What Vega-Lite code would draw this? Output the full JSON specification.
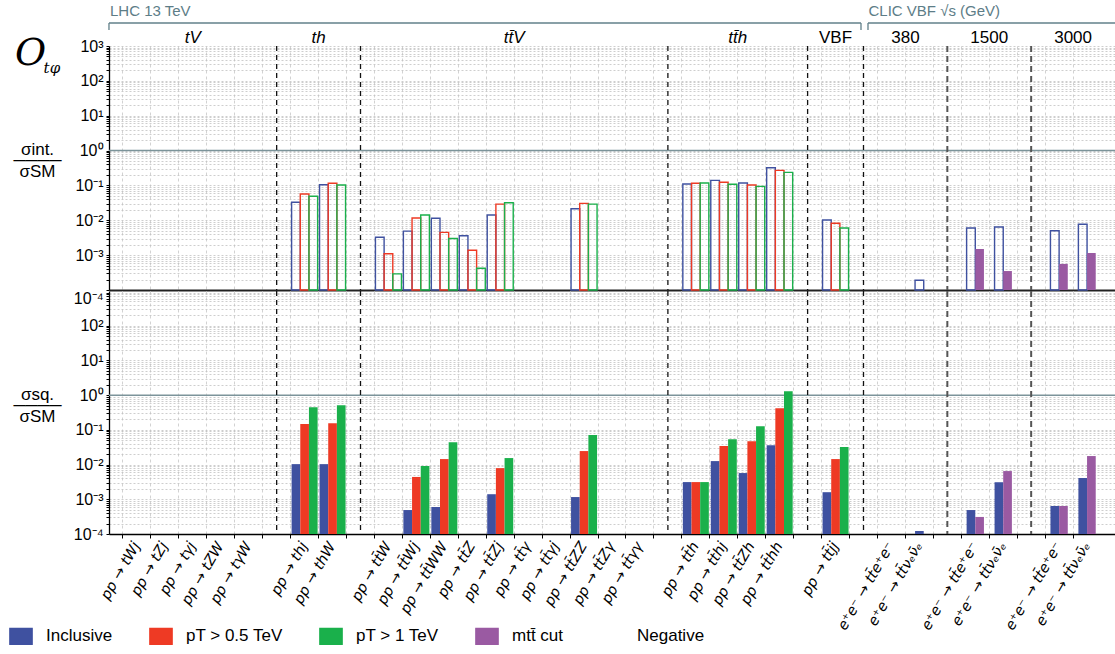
{
"$schema": "https://vega.github.io/schema/vega-lite/v6.json",
"background": "white",
"padding": {"left": 12, "top": 4, "right": 0, "bottom": 2},
"config": {
  "font": "Liberation Sans",
  "view": {"stroke": null},
  "legend": {"orient": "none", "legendX": -97, "legendY": 581, "direction": "horizontal", "labelFontSize": 17, "labelFont": "Liberation Sans", "labelColor": "#000", "symbolType": "M-1.4,-1H1.4V1H-1.4Z", "symbolSize": 256, "symbolStrokeColor": "#222222", "symbolStrokeWidth": 1.2, "columnPadding": 34, "labelOffset": 16, "padding": 0}
},
"datasets": {
  "intf": [
    {"proc": "pp \u2192 thj|", "series": "Inclusive", "value": 0.033, "neg": true},
    {"proc": "pp \u2192 thj|", "series": "pT > 0.5 TeV", "value": 0.057, "neg": true},
    {"proc": "pp \u2192 thj|", "series": "pT > 1 TeV", "value": 0.049, "neg": true},
    {"proc": "pp \u2192 thW|", "series": "Inclusive", "value": 0.105, "neg": true},
    {"proc": "pp \u2192 thW|", "series": "pT > 0.5 TeV", "value": 0.115, "neg": true},
    {"proc": "pp \u2192 thW|", "series": "pT > 1 TeV", "value": 0.103, "neg": true},
    {"proc": "pp \u2192 tt\u0304W|", "series": "Inclusive", "value": 0.00325, "neg": true},
    {"proc": "pp \u2192 tt\u0304W|", "series": "pT > 0.5 TeV", "value": 0.0011, "neg": true},
    {"proc": "pp \u2192 tt\u0304W|", "series": "pT > 1 TeV", "value": 0.00029, "neg": true},
    {"proc": "pp \u2192 tt\u0304Wj|", "series": "Inclusive", "value": 0.0049, "neg": true},
    {"proc": "pp \u2192 tt\u0304Wj|", "series": "pT > 0.5 TeV", "value": 0.0116, "neg": true},
    {"proc": "pp \u2192 tt\u0304Wj|", "series": "pT > 1 TeV", "value": 0.0142, "neg": true},
    {"proc": "pp \u2192 tt\u0304WW|", "series": "Inclusive", "value": 0.0114, "neg": true},
    {"proc": "pp \u2192 tt\u0304WW|", "series": "pT > 0.5 TeV", "value": 0.0045, "neg": true},
    {"proc": "pp \u2192 tt\u0304WW|", "series": "pT > 1 TeV", "value": 0.0030, "neg": true},
    {"proc": "pp \u2192 tt\u0304Z|", "series": "Inclusive", "value": 0.0036, "neg": true},
    {"proc": "pp \u2192 tt\u0304Z|", "series": "pT > 0.5 TeV", "value": 0.00138, "neg": true},
    {"proc": "pp \u2192 tt\u0304Z|", "series": "pT > 1 TeV", "value": 0.00042, "neg": true},
    {"proc": "pp \u2192 tt\u0304Zj|", "series": "Inclusive", "value": 0.0142, "neg": true},
    {"proc": "pp \u2192 tt\u0304Zj|", "series": "pT > 0.5 TeV", "value": 0.029, "neg": true},
    {"proc": "pp \u2192 tt\u0304Zj|", "series": "pT > 1 TeV", "value": 0.032, "neg": true},
    {"proc": "pp \u2192 tt\u0304ZZ|", "series": "Inclusive", "value": 0.0215, "neg": true},
    {"proc": "pp \u2192 tt\u0304ZZ|", "series": "pT > 0.5 TeV", "value": 0.0306, "neg": true},
    {"proc": "pp \u2192 tt\u0304ZZ|", "series": "pT > 1 TeV", "value": 0.029, "neg": true},
    {"proc": "pp \u2192 tt\u0304h|", "series": "Inclusive", "value": 0.110, "neg": true},
    {"proc": "pp \u2192 tt\u0304h|", "series": "pT > 0.5 TeV", "value": 0.115, "neg": true},
    {"proc": "pp \u2192 tt\u0304h|", "series": "pT > 1 TeV", "value": 0.117, "neg": true},
    {"proc": "pp \u2192 tt\u0304hj|", "series": "Inclusive", "value": 0.140, "neg": true},
    {"proc": "pp \u2192 tt\u0304hj|", "series": "pT > 0.5 TeV", "value": 0.123, "neg": true},
    {"proc": "pp \u2192 tt\u0304hj|", "series": "pT > 1 TeV", "value": 0.108, "neg": true},
    {"proc": "pp \u2192 tt\u0304Zh|", "series": "Inclusive", "value": 0.117, "neg": true},
    {"proc": "pp \u2192 tt\u0304Zh|", "series": "pT > 0.5 TeV", "value": 0.103, "neg": true},
    {"proc": "pp \u2192 tt\u0304Zh|", "series": "pT > 1 TeV", "value": 0.094, "neg": true},
    {"proc": "pp \u2192 tt\u0304hh|", "series": "Inclusive", "value": 0.32, "neg": true},
    {"proc": "pp \u2192 tt\u0304hh|", "series": "pT > 0.5 TeV", "value": 0.27, "neg": true},
    {"proc": "pp \u2192 tt\u0304hh|", "series": "pT > 1 TeV", "value": 0.237, "neg": true},
    {"proc": "pp \u2192 tt\u0304jj|", "series": "Inclusive", "value": 0.0102, "neg": true},
    {"proc": "pp \u2192 tt\u0304jj|", "series": "pT > 0.5 TeV", "value": 0.0082, "neg": true},
    {"proc": "pp \u2192 tt\u0304jj|", "series": "pT > 1 TeV", "value": 0.0060, "neg": true},
    {"proc": "e\u207ae\u207b \u2192 tt\u0304\u03bd\u2091\u03bd\u0304\u2091|380", "series": "Inclusive", "value": 0.00019, "neg": true},
    {"proc": "e\u207ae\u207b \u2192 tt\u0304e\u207ae\u207b|1500", "series": "Inclusive", "value": 0.0060, "neg": true},
    {"proc": "e\u207ae\u207b \u2192 tt\u0304e\u207ae\u207b|1500", "series": "mtt\u0304 cut", "value": 0.0015, "neg": false},
    {"proc": "e\u207ae\u207b \u2192 tt\u0304\u03bd\u2091\u03bd\u0304\u2091|1500", "series": "Inclusive", "value": 0.0064, "neg": true},
    {"proc": "e\u207ae\u207b \u2192 tt\u0304\u03bd\u2091\u03bd\u0304\u2091|1500", "series": "mtt\u0304 cut", "value": 0.00035, "neg": false},
    {"proc": "e\u207ae\u207b \u2192 tt\u0304e\u207ae\u207b|3000", "series": "Inclusive", "value": 0.0050, "neg": true},
    {"proc": "e\u207ae\u207b \u2192 tt\u0304e\u207ae\u207b|3000", "series": "mtt\u0304 cut", "value": 0.00056, "neg": false},
    {"proc": "e\u207ae\u207b \u2192 tt\u0304\u03bd\u2091\u03bd\u0304\u2091|3000", "series": "Inclusive", "value": 0.0077, "neg": true},
    {"proc": "e\u207ae\u207b \u2192 tt\u0304\u03bd\u2091\u03bd\u0304\u2091|3000", "series": "mtt\u0304 cut", "value": 0.00115, "neg": false}
  ],
  "sqr": [
    {"proc": "pp \u2192 thj|", "series": "Inclusive", "value": 0.0103},
    {"proc": "pp \u2192 thj|", "series": "pT > 0.5 TeV", "value": 0.147},
    {"proc": "pp \u2192 thj|", "series": "pT > 1 TeV", "value": 0.45},
    {"proc": "pp \u2192 thW|", "series": "Inclusive", "value": 0.0103},
    {"proc": "pp \u2192 thW|", "series": "pT > 0.5 TeV", "value": 0.156},
    {"proc": "pp \u2192 thW|", "series": "pT > 1 TeV", "value": 0.515},
    {"proc": "pp \u2192 tt\u0304Wj|", "series": "Inclusive", "value": 0.00049},
    {"proc": "pp \u2192 tt\u0304Wj|", "series": "pT > 0.5 TeV", "value": 0.0044},
    {"proc": "pp \u2192 tt\u0304Wj|", "series": "pT > 1 TeV", "value": 0.0091},
    {"proc": "pp \u2192 tt\u0304WW|", "series": "Inclusive", "value": 0.0006},
    {"proc": "pp \u2192 tt\u0304WW|", "series": "pT > 0.5 TeV", "value": 0.0144},
    {"proc": "pp \u2192 tt\u0304WW|", "series": "pT > 1 TeV", "value": 0.0443},
    {"proc": "pp \u2192 tt\u0304Zj|", "series": "Inclusive", "value": 0.0014},
    {"proc": "pp \u2192 tt\u0304Zj|", "series": "pT > 0.5 TeV", "value": 0.0079},
    {"proc": "pp \u2192 tt\u0304Zj|", "series": "pT > 1 TeV", "value": 0.0154},
    {"proc": "pp \u2192 tt\u0304ZZ|", "series": "Inclusive", "value": 0.00116},
    {"proc": "pp \u2192 tt\u0304ZZ|", "series": "pT > 0.5 TeV", "value": 0.0245},
    {"proc": "pp \u2192 tt\u0304ZZ|", "series": "pT > 1 TeV", "value": 0.0707},
    {"proc": "pp \u2192 tt\u0304h|", "series": "Inclusive", "value": 0.00313},
    {"proc": "pp \u2192 tt\u0304h|", "series": "pT > 0.5 TeV", "value": 0.00313},
    {"proc": "pp \u2192 tt\u0304h|", "series": "pT > 1 TeV", "value": 0.00313},
    {"proc": "pp \u2192 tt\u0304hj|", "series": "Inclusive", "value": 0.0126},
    {"proc": "pp \u2192 tt\u0304hj|", "series": "pT > 0.5 TeV", "value": 0.034},
    {"proc": "pp \u2192 tt\u0304hj|", "series": "pT > 1 TeV", "value": 0.054},
    {"proc": "pp \u2192 tt\u0304Zh|", "series": "Inclusive", "value": 0.0057},
    {"proc": "pp \u2192 tt\u0304Zh|", "series": "pT > 0.5 TeV", "value": 0.047},
    {"proc": "pp \u2192 tt\u0304Zh|", "series": "pT > 1 TeV", "value": 0.128},
    {"proc": "pp \u2192 tt\u0304hh|", "series": "Inclusive", "value": 0.036},
    {"proc": "pp \u2192 tt\u0304hh|", "series": "pT > 0.5 TeV", "value": 0.42},
    {"proc": "pp \u2192 tt\u0304hh|", "series": "pT > 1 TeV", "value": 1.30},
    {"proc": "pp \u2192 tt\u0304jj|", "series": "Inclusive", "value": 0.0016},
    {"proc": "pp \u2192 tt\u0304jj|", "series": "pT > 0.5 TeV", "value": 0.0144},
    {"proc": "pp \u2192 tt\u0304jj|", "series": "pT > 1 TeV", "value": 0.032},
    {"proc": "e\u207ae\u207b \u2192 tt\u0304\u03bd\u2091\u03bd\u0304\u2091|380", "series": "Inclusive", "value": 0.000122},
    {"proc": "e\u207ae\u207b \u2192 tt\u0304e\u207ae\u207b|1500", "series": "Inclusive", "value": 0.00049},
    {"proc": "e\u207ae\u207b \u2192 tt\u0304e\u207ae\u207b|1500", "series": "mtt\u0304 cut", "value": 0.00031},
    {"proc": "e\u207ae\u207b \u2192 tt\u0304\u03bd\u2091\u03bd\u0304\u2091|1500", "series": "Inclusive", "value": 0.0031},
    {"proc": "e\u207ae\u207b \u2192 tt\u0304\u03bd\u2091\u03bd\u0304\u2091|1500", "series": "mtt\u0304 cut", "value": 0.0065},
    {"proc": "e\u207ae\u207b \u2192 tt\u0304e\u207ae\u207b|3000", "series": "Inclusive", "value": 0.00064},
    {"proc": "e\u207ae\u207b \u2192 tt\u0304e\u207ae\u207b|3000", "series": "mtt\u0304 cut", "value": 0.00064},
    {"proc": "e\u207ae\u207b \u2192 tt\u0304\u03bd\u2091\u03bd\u0304\u2091|3000", "series": "Inclusive", "value": 0.0041},
    {"proc": "e\u207ae\u207b \u2192 tt\u0304\u03bd\u2091\u03bd\u0304\u2091|3000", "series": "mtt\u0304 cut", "value": 0.0176}
  ],
  "gaps": [{"proc": "|gap1"}, {"proc": "|gap2"}, {"proc": "|gap3"}, {"proc": "|gap4"}, {"proc": "|gap5"}, {"proc": "|gap6"}, {"proc": "|gap7"}],
  "heads": [
    {"proc": "pp \u2192 t\u03b3j|", "label": "tV"},
    {"proc": "pp \u2192 thW|", "label": "th"},
    {"proc": "pp \u2192 tt\u0304\u03b3|", "label": "tt\u0304V"},
    {"proc": "pp \u2192 tt\u0304Zh|", "label": "tt\u0304h"},
    {"proc": "pp \u2192 tt\u0304jj|", "label": "VBF"},
    {"proc": "e\u207ae\u207b \u2192 tt\u0304\u03bd\u2091\u03bd\u0304\u2091|380", "label": "380"},
    {"proc": "e\u207ae\u207b \u2192 tt\u0304\u03bd\u2091\u03bd\u0304\u2091|1500", "label": "1500"},
    {"proc": "e\u207ae\u207b \u2192 tt\u0304\u03bd\u2091\u03bd\u0304\u2091|3000", "label": "3000"}
  ],
  "brackets": [
    {"proc": "pp \u2192 tWj|", "proc2": "|gap5", "label": "LHC 13 TeV"},
    {"proc": "|gap5", "proc2": "e\u207ae\u207b \u2192 tt\u0304\u03bd\u2091\u03bd\u0304\u2091|3000", "label": "CLIC VBF \u221as (GeV)"}
  ]
},
"spacing": 1,
"bounds": "flush",
"vconcat": [
{
  "width": 1006, "height": 244,
  "title": {"text": "O", "subtitle": "\u200b\u00a0\u00a0\u00a0\u00a0\u00a0\u00a0t\u03c6", "anchor": "start", "frame": "group", "orient": "top", "offset": 0, "dx": -94, "dy": 72, "font": "DejaVu Serif", "fontStyle": "italic", "fontWeight": "normal", "fontSize": 38, "color": "#000", "subtitleFont": "DejaVu Serif", "subtitleFontStyle": "italic", "subtitleFontSize": 15, "subtitleColor": "#000", "subtitlePadding": -12},
  "layer": [
    {"data": {"values": [{"v": 1}]}, "mark": {"type": "rule", "color": "#7c949a", "strokeWidth": 1.5},
     "encoding": {"y": {"field": "v", "type": "quantitative", "scale": {"type": "log", "domain": [0.0001, 1000]},
       "axis": {"title": ["\u03c3int.", "\u2500\u2500\u2500\u2500", "\u03c3SM"], "titleAngle": 0, "titleAlign": "center", "titleBaseline": "alphabetic", "titleX": -72, "titleY": 108, "titleFontSize": 17, "titleFontWeight": "normal", "titleLineHeight": 11, "titleColor": "#000",
         "values": [0.0001,0.0002,0.0003,0.0004,0.0005,0.0006,0.0007,0.0008,0.0009,0.001,0.002,0.003,0.004,0.005,0.006,0.007,0.008,0.009,0.01,0.02,0.03,0.04,0.05,0.06,0.07,0.08,0.09,0.1,0.2,0.3,0.4,0.5,0.6,0.7,0.8,0.9,1,2,3,4,5,6,7,8,9,10,20,30,40,50,60,70,80,90,100,200,300,400,500,600,700,800,900,1000],
         "labelExpr": "datum.value == 1000 ? '10\u00b3' : datum.value == 100 ? '10\u00b2' : datum.value == 10 ? '10\u00b9' : datum.value == 1 ? '10\u2070' : datum.value == 0.1 ? '10\u207b\u00b9' : datum.value == 0.01 ? '10\u207b\u00b2' : datum.value == 0.001 ? '10\u207b\u00b3' : datum.value == 0.0001 ? '10\u207b\u2074' : ''",
         "labelBaseline": {"condition": {"test": "datum.value == 0.0001", "value": "top"}, "value": "middle"},
         "labelOverlap": false, "labelFontSize": 16, "labelColor": "#000", "labelPadding": 3,
         "tickSize": 3, "tickColor": "#000", "domainColor": "#000", "domainWidth": 1.3,
         "grid": true, "gridColor": "#c2c2c2", "gridDash": [2, 2], "gridWidth": 0.8}}}},
    {"data": {"name": "gaps"}, "transform": [{"filter": "datum.proc != '|gap6' && datum.proc != '|gap7'"}],
     "mark": {"type": "rule", "color": "#111", "strokeWidth": 1.3, "strokeDash": [5, 4]},
     "encoding": {"x": {"field": "proc", "type": "nominal", "scale": {"domain": ["pp \u2192 tWj|","pp \u2192 tZj|","pp \u2192 t\u03b3j|","pp \u2192 tZW|","pp \u2192 t\u03b3W|","|gap1","pp \u2192 thj|","pp \u2192 thW|","|gap2","pp \u2192 tt\u0304W|","pp \u2192 tt\u0304Wj|","pp \u2192 tt\u0304WW|","pp \u2192 tt\u0304Z|","pp \u2192 tt\u0304Zj|","pp \u2192 tt\u0304\u03b3|","pp \u2192 tt\u0304\u03b3j|","pp \u2192 tt\u0304ZZ|","pp \u2192 tt\u0304Z\u03b3|","pp \u2192 tt\u0304\u03b3\u03b3|","|gap3","pp \u2192 tt\u0304h|","pp \u2192 tt\u0304hj|","pp \u2192 tt\u0304Zh|","pp \u2192 tt\u0304hh|","|gap4","pp \u2192 tt\u0304jj|","|gap5","e\u207ae\u207b \u2192 tt\u0304e\u207ae\u207b|380","e\u207ae\u207b \u2192 tt\u0304\u03bd\u2091\u03bd\u0304\u2091|380","|gap6","e\u207ae\u207b \u2192 tt\u0304e\u207ae\u207b|1500","e\u207ae\u207b \u2192 tt\u0304\u03bd\u2091\u03bd\u0304\u2091|1500","|gap7","e\u207ae\u207b \u2192 tt\u0304e\u207ae\u207b|3000","e\u207ae\u207b \u2192 tt\u0304\u03bd\u2091\u03bd\u0304\u2091|3000"], "paddingInner": 0, "paddingOuter": 0.5},
       "axis": {"title": null, "labels": false, "ticks": false, "domainColor": "#222", "domainWidth": 2, "grid": true, "gridColor": "#d2d2d2", "gridDash": [3, 3], "gridWidth": 1, "bandPosition": 0}}}},
    {"data": {"name": "gaps"}, "transform": [{"filter": "datum.proc == '|gap6' || datum.proc == '|gap7'"}],
     "mark": {"type": "rule", "color": "#555", "strokeWidth": 2, "strokeDash": [6, 4]},
     "encoding": {"x": {"field": "proc", "type": "nominal"}}},
    {"data": {"name": "intf"}, "transform": [{"filter": "indexof(datum.proc, 'pp') == 0 && datum.series == 'Inclusive'"}],
     "mark": {"type": "bar", "filled": false, "strokeWidth": 1.4, "width": 8.67, "xOffset": -8.67},
     "encoding": {"x": {"field": "proc", "type": "nominal"}, "y": {"field": "value", "type": "quantitative"}, "y2": {"datum": 0.0001},
       "color": {"field": "series", "type": "nominal", "title": null, "scale": {"domain": ["Inclusive", "pT > 0.5 TeV", "pT > 1 TeV", "mtt\u0304 cut", "Negative"], "range": ["#3F51A0", "#EE3A24", "#1AB04B", "#9A5AA2", "#ffffff"]}}}},
    {"data": {"name": "intf"}, "transform": [{"filter": "indexof(datum.proc, 'pp') == 0 && datum.series == 'pT > 0.5 TeV'"}],
     "mark": {"type": "bar", "filled": false, "strokeWidth": 1.4, "width": 8.67, "xOffset": 0},
     "encoding": {"x": {"field": "proc", "type": "nominal"}, "y": {"field": "value", "type": "quantitative"}, "y2": {"datum": 0.0001},
       "color": {"field": "series", "type": "nominal", "title": null}}},
    {"data": {"name": "intf"}, "transform": [{"filter": "indexof(datum.proc, 'pp') == 0 && datum.series == 'pT > 1 TeV'"}],
     "mark": {"type": "bar", "filled": false, "strokeWidth": 1.4, "width": 8.67, "xOffset": 8.67},
     "encoding": {"x": {"field": "proc", "type": "nominal"}, "y": {"field": "value", "type": "quantitative"}, "y2": {"datum": 0.0001},
       "color": {"field": "series", "type": "nominal", "title": null}}},
    {"data": {"name": "intf"}, "transform": [{"filter": "indexof(datum.proc, 'e') == 0 && indexof(datum.proc, '|380') < 0 && datum.series == 'Inclusive'"}],
     "mark": {"type": "bar", "filled": false, "strokeWidth": 1.4, "width": 8.67, "xOffset": -4.33},
     "encoding": {"x": {"field": "proc", "type": "nominal"}, "y": {"field": "value", "type": "quantitative"}, "y2": {"datum": 0.0001},
       "color": {"field": "series", "type": "nominal", "title": null}}},
    {"data": {"name": "intf"}, "transform": [{"filter": "indexof(datum.proc, 'e') == 0 && datum.series != 'Inclusive'"}],
     "mark": {"type": "bar", "width": 8.67, "xOffset": 4.33},
     "encoding": {"x": {"field": "proc", "type": "nominal"}, "y": {"field": "value", "type": "quantitative"}, "y2": {"datum": 0.0001},
       "color": {"field": "series", "type": "nominal", "title": null}}},
    {"data": {"name": "intf"}, "transform": [{"filter": "indexof(datum.proc, '|380') >= 0"}],
     "mark": {"type": "bar", "filled": false, "strokeWidth": 1.4, "width": 8.67, "xOffset": 0},
     "encoding": {"x": {"field": "proc", "type": "nominal"}, "y": {"field": "value", "type": "quantitative"}, "y2": {"datum": 0.0001},
       "color": {"field": "series", "type": "nominal", "title": null}}},
    {"data": {"name": "heads"}, "transform": [{"filter": "datum.label == 'tV'"}],
     "mark": {"type": "text", "fontStyle": "italic", "fontSize": 17, "baseline": "middle", "align": "center", "color": "#000"},
     "encoding": {"x": {"field": "proc", "type": "nominal", "bandPosition": 0.5}, "y": {"datum": 1700}, "text": {"field": "label"}}},
    {"data": {"name": "heads"}, "transform": [{"filter": "datum.label == 'th' || datum.label == 'tt\u0304V' || datum.label == 'tt\u0304h'"}],
     "mark": {"type": "text", "fontStyle": "italic", "fontSize": 17, "baseline": "middle", "align": "center", "color": "#000"},
     "encoding": {"x": {"field": "proc", "type": "nominal", "bandPosition": 0}, "y": {"datum": 1700}, "text": {"field": "label"}}},
    {"data": {"name": "heads"}, "transform": [{"filter": "datum.label == 'VBF'"}],
     "mark": {"type": "text", "fontSize": 17, "baseline": "middle", "align": "center", "color": "#000"},
     "encoding": {"x": {"field": "proc", "type": "nominal", "bandPosition": 0.5}, "y": {"datum": 1700}, "text": {"field": "label"}}},
    {"data": {"name": "heads"}, "transform": [{"filter": "datum.label == '380' || datum.label == '1500' || datum.label == '3000'"}],
     "mark": {"type": "text", "fontSize": 17, "baseline": "middle", "align": "center", "color": "#000"},
     "encoding": {"x": {"field": "proc", "type": "nominal", "bandPosition": 0}, "y": {"datum": 1700}, "text": {"field": "label"}}},
    {"data": {"name": "brackets"}, "transform": [{"filter": "datum.label == 'LHC 13 TeV'"}],
     "mark": {"type": "rule", "color": "#62808a", "strokeWidth": 1.3, "xOffset": -14, "x2Offset": -2.5},
     "encoding": {"x": {"field": "proc", "type": "nominal", "bandPosition": 0}, "x2": {"field": "proc2"}, "y": {"datum": 4571}}},
    {"data": {"name": "brackets"}, "transform": [{"filter": "datum.label != 'LHC 13 TeV'"}],
     "mark": {"type": "rule", "color": "#62808a", "strokeWidth": 1.3, "xOffset": 4.5, "x2Offset": 28},
     "encoding": {"x": {"field": "proc", "type": "nominal", "bandPosition": 0.5}, "x2": {"field": "proc2"}, "y": {"datum": 4571}}},
    {"data": {"name": "brackets"}, "transform": [{"filter": "datum.label == 'LHC 13 TeV'"}],
     "mark": {"type": "rule", "color": "#62808a", "strokeWidth": 1.3, "xOffset": -14},
     "encoding": {"x": {"field": "proc", "type": "nominal", "bandPosition": 0}, "y": {"datum": 4571}, "y2": {"datum": 2877}}},
    {"data": {"name": "brackets"}, "transform": [{"filter": "datum.label == 'LHC 13 TeV'"}],
     "mark": {"type": "rule", "color": "#62808a", "strokeWidth": 1.3, "xOffset": -2.5},
     "encoding": {"x": {"field": "proc2", "type": "nominal", "bandPosition": 0.5}, "y": {"datum": 4571}, "y2": {"datum": 2877}}},
    {"data": {"name": "brackets"}, "transform": [{"filter": "datum.label != 'LHC 13 TeV'"}],
     "mark": {"type": "rule", "color": "#62808a", "strokeWidth": 1.3, "xOffset": 4.5},
     "encoding": {"x": {"field": "proc", "type": "nominal", "bandPosition": 0.5}, "y": {"datum": 4571}, "y2": {"datum": 2877}}},
    {"data": {"name": "brackets"}, "transform": [{"filter": "datum.label == 'LHC 13 TeV'"}],
     "mark": {"type": "text", "fontSize": 15, "baseline": "middle", "align": "left", "dx": -13, "color": "#5d7d87"},
     "encoding": {"x": {"field": "proc", "type": "nominal", "bandPosition": 0}, "y": {"datum": 10090}, "text": {"field": "label"}}},
    {"data": {"name": "brackets"}, "transform": [{"filter": "datum.label != 'LHC 13 TeV'"}],
     "mark": {"type": "text", "fontSize": 15, "baseline": "middle", "align": "left", "dx": 5, "color": "#5d7d87"},
     "encoding": {"x": {"field": "proc", "type": "nominal", "bandPosition": 0.5}, "y": {"datum": 10090}, "text": {"field": "label"}}}
  ]
},
{
  "width": 1006, "height": 243,
  "layer": [
    {"data": {"values": [{"v": 1}]}, "mark": {"type": "rule", "color": "#7c949a", "strokeWidth": 1.5},
     "encoding": {"y": {"field": "v", "type": "quantitative", "scale": {"type": "log", "domain": [0.0001, 1000]},
       "axis": {"title": ["\u03c3sq.", "\u2500\u2500\u2500\u2500", "\u03c3SM"], "titleAngle": 0, "titleAlign": "center", "titleBaseline": "alphabetic", "titleX": -72, "titleY": 108, "titleFontSize": 17, "titleFontWeight": "normal", "titleLineHeight": 11, "titleColor": "#000",
         "values": [0.0001,0.0002,0.0003,0.0004,0.0005,0.0006,0.0007,0.0008,0.0009,0.001,0.002,0.003,0.004,0.005,0.006,0.007,0.008,0.009,0.01,0.02,0.03,0.04,0.05,0.06,0.07,0.08,0.09,0.1,0.2,0.3,0.4,0.5,0.6,0.7,0.8,0.9,1,2,3,4,5,6,7,8,9,10,20,30,40,50,60,70,80,90,100,200,300,400,500,600,700,800,900],
         "labelExpr": "datum.value == 100 ? '10\u00b2' : datum.value == 10 ? '10\u00b9' : datum.value == 1 ? '10\u2070' : datum.value == 0.1 ? '10\u207b\u00b9' : datum.value == 0.01 ? '10\u207b\u00b2' : datum.value == 0.001 ? '10\u207b\u00b3' : datum.value == 0.0001 ? '10\u207b\u2074' : ''",
         "labelOverlap": false, "labelFontSize": 16, "labelColor": "#000", "labelPadding": 3,
         "tickSize": 3, "tickColor": "#000", "domainColor": "#000", "domainWidth": 1.3,
         "grid": true, "gridColor": "#c2c2c2", "gridDash": [2, 2], "gridWidth": 0.8}}}},
    {"data": {"name": "gaps"}, "transform": [{"filter": "datum.proc != '|gap6' && datum.proc != '|gap7'"}],
     "mark": {"type": "rule", "color": "#111", "strokeWidth": 1.3, "strokeDash": [5, 4]},
     "encoding": {"x": {"field": "proc", "type": "nominal", "scale": {"domain": ["pp \u2192 tWj|","pp \u2192 tZj|","pp \u2192 t\u03b3j|","pp \u2192 tZW|","pp \u2192 t\u03b3W|","|gap1","pp \u2192 thj|","pp \u2192 thW|","|gap2","pp \u2192 tt\u0304W|","pp \u2192 tt\u0304Wj|","pp \u2192 tt\u0304WW|","pp \u2192 tt\u0304Z|","pp \u2192 tt\u0304Zj|","pp \u2192 tt\u0304\u03b3|","pp \u2192 tt\u0304\u03b3j|","pp \u2192 tt\u0304ZZ|","pp \u2192 tt\u0304Z\u03b3|","pp \u2192 tt\u0304\u03b3\u03b3|","|gap3","pp \u2192 tt\u0304h|","pp \u2192 tt\u0304hj|","pp \u2192 tt\u0304Zh|","pp \u2192 tt\u0304hh|","|gap4","pp \u2192 tt\u0304jj|","|gap5","e\u207ae\u207b \u2192 tt\u0304e\u207ae\u207b|380","e\u207ae\u207b \u2192 tt\u0304\u03bd\u2091\u03bd\u0304\u2091|380","|gap6","e\u207ae\u207b \u2192 tt\u0304e\u207ae\u207b|1500","e\u207ae\u207b \u2192 tt\u0304\u03bd\u2091\u03bd\u0304\u2091|1500","|gap7","e\u207ae\u207b \u2192 tt\u0304e\u207ae\u207b|3000","e\u207ae\u207b \u2192 tt\u0304\u03bd\u2091\u03bd\u0304\u2091|3000"], "paddingInner": 0, "paddingOuter": 0.5},
       "axis": {"title": null, "labelExpr": "replace(datum.value, /\\|.*$/, '')", "labelAngle": -60, "labelAlign": "right", "labelBaseline": "middle", "labelFont": "DejaVu Sans", "labelFontStyle": "italic", "labelFontSize": 14.5, "labelColor": "#000", "labelPadding": 5, "labelOverlap": false, "tickSize": 4, "tickColor": "#000", "domainColor": "#000", "domainWidth": 1.5, "grid": true, "gridColor": "#d2d2d2", "gridDash": [3, 3], "gridWidth": 1, "bandPosition": 0}}}},
    {"data": {"name": "gaps"}, "transform": [{"filter": "datum.proc == '|gap6' || datum.proc == '|gap7'"}],
     "mark": {"type": "rule", "color": "#555", "strokeWidth": 2, "strokeDash": [6, 4]},
     "encoding": {"x": {"field": "proc", "type": "nominal"}}},
    {"data": {"name": "sqr"}, "transform": [{"filter": "indexof(datum.proc, 'pp') == 0 && datum.series == 'Inclusive'"}],
     "mark": {"type": "bar", "width": 8.67, "xOffset": -8.67},
     "encoding": {"x": {"field": "proc", "type": "nominal"}, "y": {"field": "value", "type": "quantitative"}, "y2": {"datum": 0.0001},
       "color": {"field": "series", "type": "nominal", "title": null, "scale": {"domain": ["Inclusive", "pT > 0.5 TeV", "pT > 1 TeV", "mtt\u0304 cut", "Negative"], "range": ["#3F51A0", "#EE3A24", "#1AB04B", "#9A5AA2", "#ffffff"]}}}},
    {"data": {"name": "sqr"}, "transform": [{"filter": "indexof(datum.proc, 'pp') == 0 && datum.series == 'pT > 0.5 TeV'"}],
     "mark": {"type": "bar", "width": 8.67, "xOffset": 0},
     "encoding": {"x": {"field": "proc", "type": "nominal"}, "y": {"field": "value", "type": "quantitative"}, "y2": {"datum": 0.0001},
       "color": {"field": "series", "type": "nominal", "title": null}}},
    {"data": {"name": "sqr"}, "transform": [{"filter": "indexof(datum.proc, 'pp') == 0 && datum.series == 'pT > 1 TeV'"}],
     "mark": {"type": "bar", "width": 8.67, "xOffset": 8.67},
     "encoding": {"x": {"field": "proc", "type": "nominal"}, "y": {"field": "value", "type": "quantitative"}, "y2": {"datum": 0.0001},
       "color": {"field": "series", "type": "nominal", "title": null}}},
    {"data": {"name": "sqr"}, "transform": [{"filter": "indexof(datum.proc, 'e') == 0 && indexof(datum.proc, '|380') < 0 && datum.series == 'Inclusive'"}],
     "mark": {"type": "bar", "width": 8.67, "xOffset": -4.33},
     "encoding": {"x": {"field": "proc", "type": "nominal"}, "y": {"field": "value", "type": "quantitative"}, "y2": {"datum": 0.0001},
       "color": {"field": "series", "type": "nominal", "title": null}}},
    {"data": {"name": "sqr"}, "transform": [{"filter": "indexof(datum.proc, 'e') == 0 && datum.series != 'Inclusive'"}],
     "mark": {"type": "bar", "width": 8.67, "xOffset": 4.33},
     "encoding": {"x": {"field": "proc", "type": "nominal"}, "y": {"field": "value", "type": "quantitative"}, "y2": {"datum": 0.0001},
       "color": {"field": "series", "type": "nominal", "title": null}}},
    {"data": {"name": "sqr"}, "transform": [{"filter": "indexof(datum.proc, '|380') >= 0"}],
     "mark": {"type": "bar", "width": 8.67, "xOffset": 0},
     "encoding": {"x": {"field": "proc", "type": "nominal"}, "y": {"field": "value", "type": "quantitative"}, "y2": {"datum": 0.0001},
       "color": {"field": "series", "type": "nominal", "title": null}}}
  ]
}
]
}
